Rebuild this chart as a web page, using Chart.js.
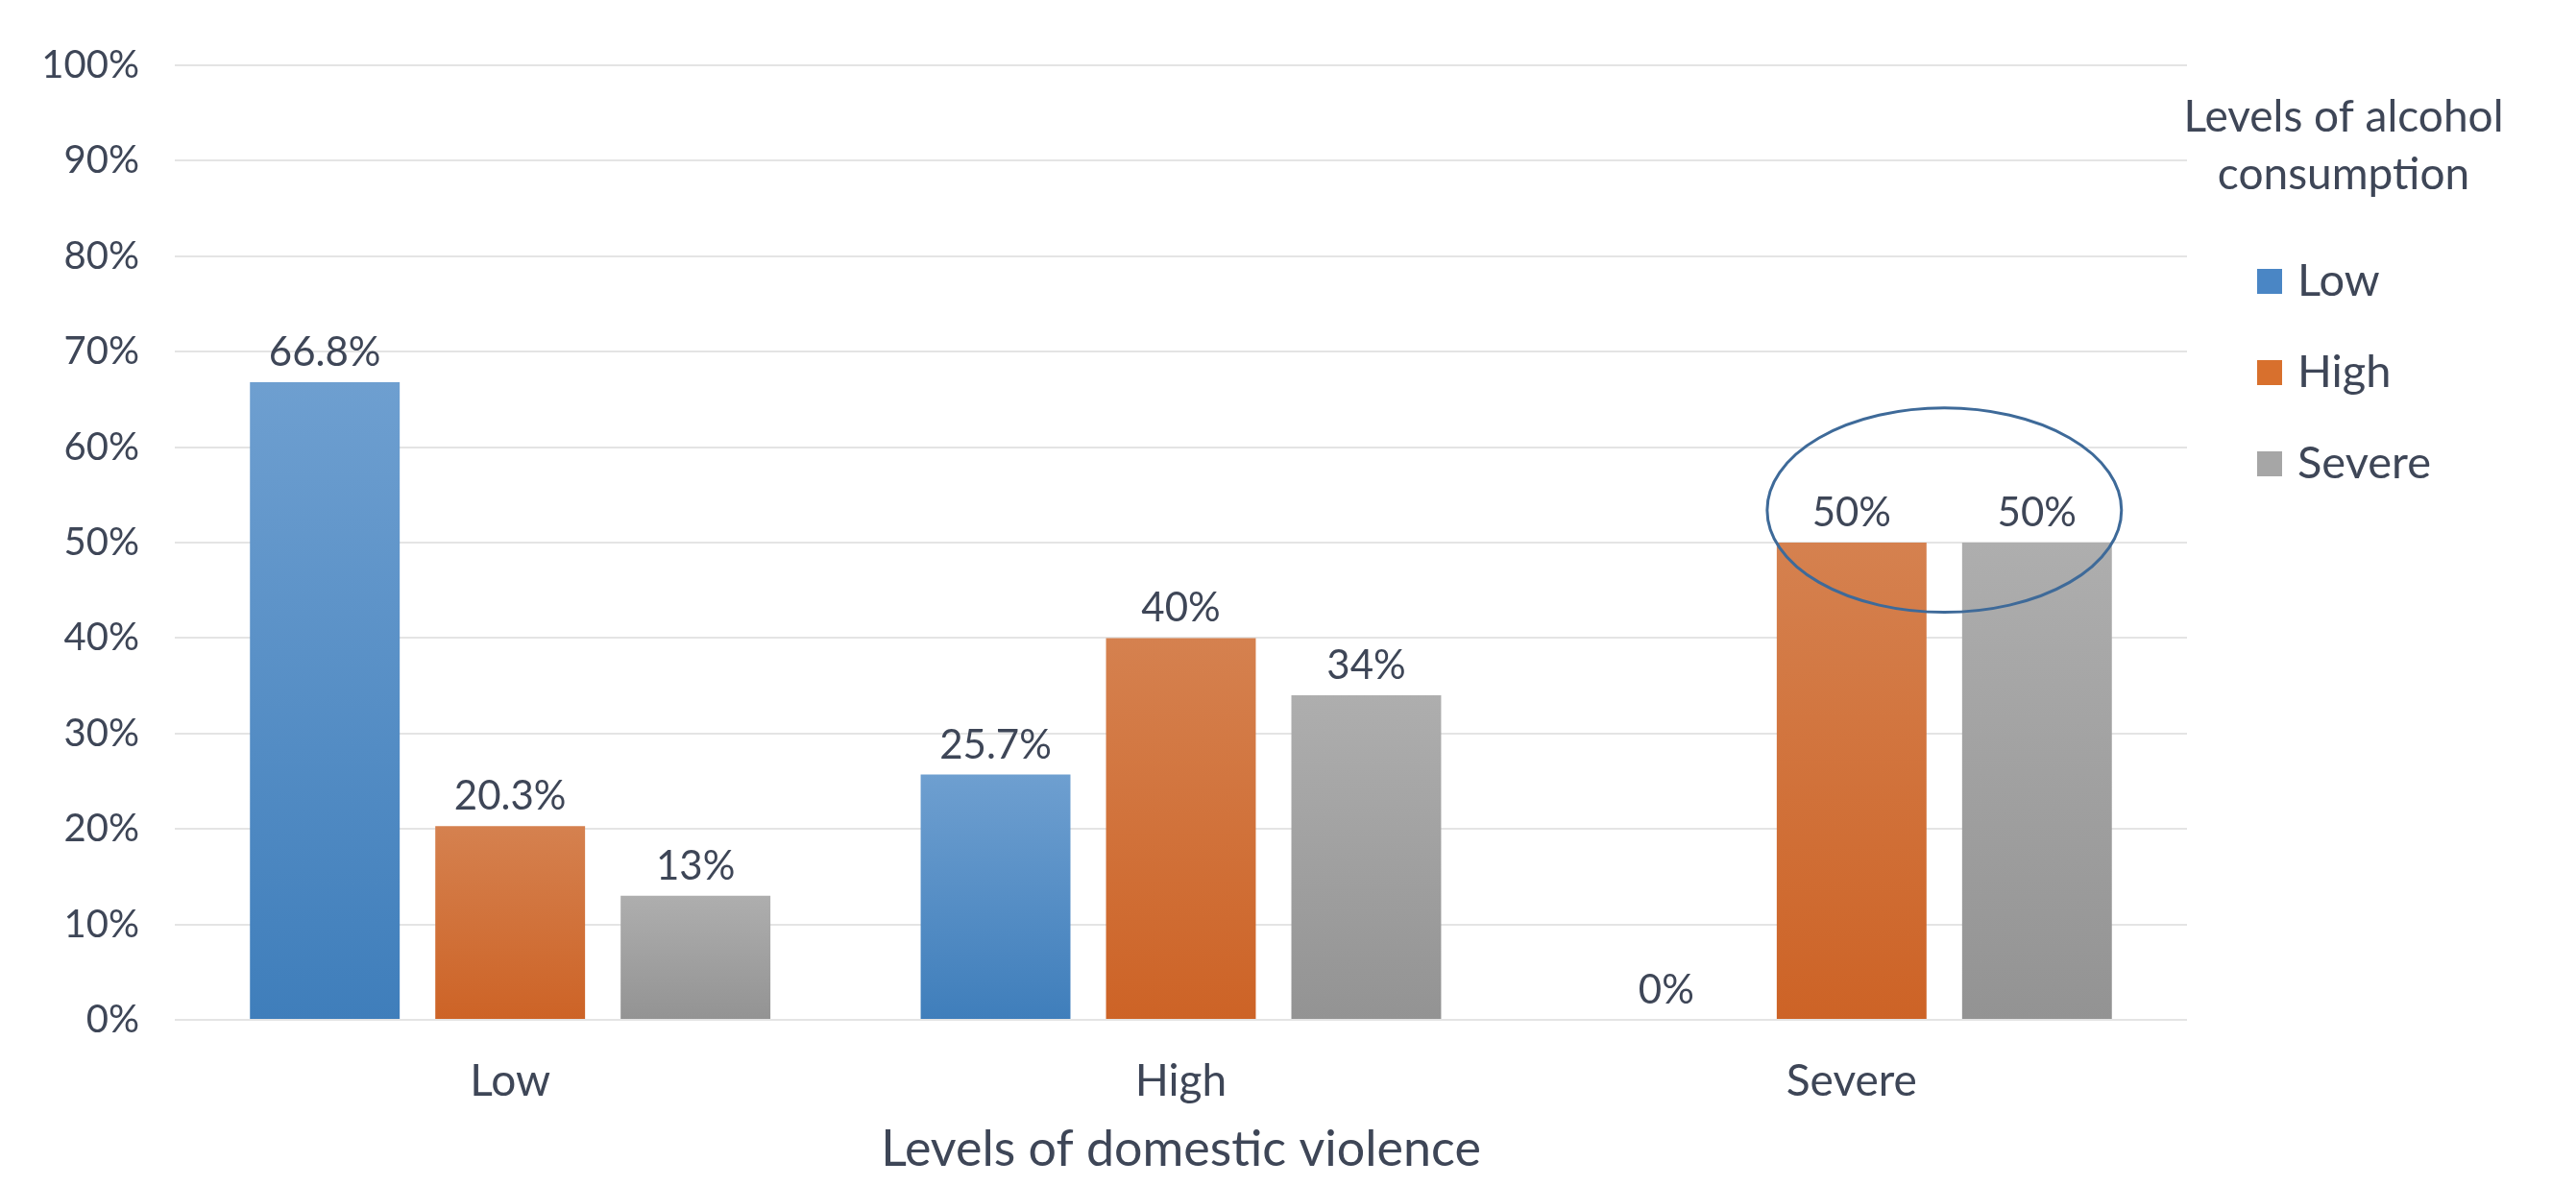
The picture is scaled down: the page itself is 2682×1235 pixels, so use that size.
<!DOCTYPE html>
<html>
<head>
<meta charset="utf-8">
<title>Levels of domestic violence by level of alcohol consumption</title>
<script src="https://cdn.jsdelivr.net/npm/chart.js@4/dist/chart.umd.min.js"></script>
<style>
    html, body { margin: 0; padding: 0; background: #ffffff; }
    #wrap { width: 2682px; height: 1235px; position: relative; }
</style>
</head>
<body>
<div id="wrap"><canvas id="violenceChart"></canvas></div>
<script>
"use strict";

// categories on the x axis (levels of domestic violence)
var violenceLevels = ["Low", "High", "Severe"];

// one series per level of alcohol consumption
var seriesNames = ["Low", "High", "Severe"];
var lowAlcohol = [66.8, 25.7, 0];
var highAlcohol = [20.3, 40, 50];
var severeAlcohol = [13, 34, 50];

var yTickValues = [0, 10, 20, 30, 40, 50, 60, 70, 80, 90, 100];

// value range circled round the two 50% bars of "Severe"
var highlightRange = [42.7, 64.1];

var legendTitle = ["Levels of alcohol", "consumption"];
var xTitle = "Levels of domestic violence";

var fontFamily = "Lato, 'DejaVu Sans Condensed', sans-serif";
var textColor = "#3e4657";
var topColors = ["#6e9fd0", "#d5814f", "#aeaeae"];
var bottomColors = ["#3f7ebb", "#cd6326", "#939393"];
var legendColors = ["#4a86c5", "#d8702d", "#a6a6a6"];

Chart.defaults.font.family = fontFamily;
Chart.defaults.color = textColor;

// each bar gets its own top-to-bottom gradient
function barGradient(index) {
    return function(context) {
        var chart = context.chart;
        var value = context.raw;
        if (!chart.chartArea || !value) {
            return legendColors[index];
        }
        var yScale = chart.scales.y;
        var top = yScale.getPixelForValue(value);
        var bottom = yScale.getPixelForValue(0);
        var gradient = chart.ctx.createLinearGradient(0, top, 0, bottom);
        gradient.addColorStop(0, topColors[index]);
        gradient.addColorStop(1, bottomColors[index]);
        return gradient;
    };
}

//value labels above the bars
var barLabels = {
    id: "barLabels",
    afterDatasetsDraw: function(chart) {
        var ctx = chart.ctx;
        ctx.save();
        ctx.font = "42px " + fontFamily;
        ctx.fillStyle = textColor;
        ctx.textAlign = "center";
        ctx.textBaseline = "alphabetic";
        chart.data.datasets.forEach(function(dataset, i) {
            chart.getDatasetMeta(i).data.forEach(function(bar, j) {
                ctx.fillText(dataset.data[j] + "%", bar.x, bar.y - 17);
            });
        });
        ctx.restore();
    }
};

// ellipse round the High and Severe bars of the "Severe" category
var highlight = {
    id: "highlight",
    afterDatasetsDraw: function(chart) {
        var yScale = chart.scales.y;
        var last = violenceLevels.length - 1;
        var first = chart.getDatasetMeta(1).data[last];
        var second = chart.getDatasetMeta(2).data[last];
        var yLow = yScale.getPixelForValue(highlightRange[0]);
        var yHigh = yScale.getPixelForValue(highlightRange[1]);
        var cx = (first.x + second.x) / 2;
        var rx = (second.x - first.x) / 2 + first.width / 2 + 10;
        var ctx = chart.ctx;
        ctx.save();
        ctx.strokeStyle = "#3e6a99";
        ctx.lineWidth = 3;
        ctx.beginPath();
        ctx.ellipse(cx, (yLow + yHigh) / 2, rx, (yLow - yHigh) / 2, 0, 0, Math.PI * 2);
        ctx.stroke();
        ctx.restore();
    }
};

// legend on the right, with its two line title
var sideLegend = {
    id: "sideLegend",
    afterDraw: function(chart) {
        var ctx = chart.ctx;
        var left = chart.chartArea.right + 73;
        ctx.save();
        ctx.fillStyle = textColor;
        ctx.textBaseline = "alphabetic";
        ctx.textAlign = "center";
        ctx.font = "46px " + fontFamily;
        legendTitle.forEach(function(line, i) {
            ctx.fillText(line, left + 90, 137 + i * 60);
        });
        ctx.textAlign = "left";
        ctx.font = "47px " + fontFamily;
        chart.data.datasets.forEach(function(dataset, i) {
            var middle = 293 + i * 95;
            ctx.fillStyle = legendColors[i];
            ctx.fillRect(left, middle - 13, 26, 26);
            ctx.fillStyle = textColor;
            ctx.fillText(dataset.label, left + 42, middle + 15);
        });
        ctx.restore();
    }
};

var ctx = document.getElementById("violenceChart");

new Chart(ctx, {
    type: "bar",
    data: {
        labels: violenceLevels,
        datasets: [
            { label: seriesNames[0], data: lowAlcohol, backgroundColor: barGradient(0) },
            { label: seriesNames[1], data: highAlcohol, backgroundColor: barGradient(1) },
            { label: seriesNames[2], data: severeAlcohol, backgroundColor: barGradient(2) }
        ]
    },
    options: {
        responsive: true,
        maintainAspectRatio: false,
        devicePixelRatio: 1,
        animation: false,
        categoryPercentage: 0.829,
        barPercentage: 0.808,
        layout: {
            padding: { left: 0, right: 405, top: 68, bottom: 0 }
        },
        plugins: {
            legend: { display: false },
            tooltip: { enabled: false }
        },
        scales: {
            x: {
                grid: { display: false },
                border: { display: false },
                ticks: {
                    padding: 33,
                    color: textColor,
                    font: { size: 46, lineHeight: 1 }
                },
                title: {
                    display: true,
                    text: xTitle,
                    color: textColor,
                    font: { size: 52, lineHeight: 1 },
                    padding: { top: 0, bottom: 12 }
                },
                afterFit: function(scale) {
                    scale.height = 173;
                }
            },
            y: {
                min: 0,
                max: 100,
                border: { display: false },
                grid: {
                    color: "#e4e4e4",
                    lineWidth: 2,
                    drawTicks: false
                },
                ticks: {
                    padding: 37,
                    color: textColor,
                    font: { size: 40 },
                    callback: function(value) {
                        return value + "%";
                    }
                },
                afterBuildTicks: function(scale) {
                    scale.ticks = yTickValues.map(function(v) {
                        return { value: v };
                    });
                },
                afterFit: function(scale) {
                    scale.width = 182;
                }
            }
        }
    },
    plugins: [barLabels, highlight, sideLegend]
});
</script>
</body>
</html>
